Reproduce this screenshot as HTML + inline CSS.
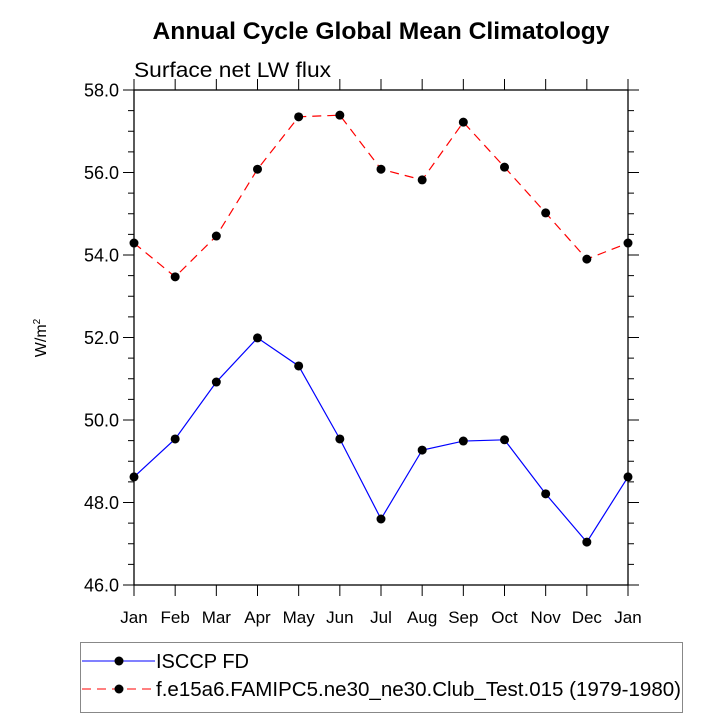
<!DOCTYPE html>
<html><head><meta charset="utf-8"><style>
body{margin:0;background:#fff;}
svg{display:block;font-family:"Liberation Sans",Arial,sans-serif;}
</style></head><body>
<svg id="c" width="727" height="727" viewBox="0 0 727 727">
<text x="381" y="39" text-anchor="middle" font-size="24" font-weight="bold" textLength="457" lengthAdjust="spacingAndGlyphs">Annual Cycle Global Mean Climatology</text>
<text x="134" y="77" font-size="21" textLength="197" lengthAdjust="spacingAndGlyphs">Surface net LW flux</text>
<text transform="translate(46,338) rotate(-90)" text-anchor="middle" font-size="16">W/m<tspan font-size="10" dy="-6">2</tspan></text>
<g id="axes"></g>
<g id="series"></g>
<g>
<rect x="80.5" y="642.5" width="602" height="70" fill="#fff" stroke="#888"/>
<line x1="82" y1="661" x2="155" y2="661" stroke="#00f"/>
<circle cx="119" cy="661" r="4.5" fill="#000"/>
<text x="156" y="668" font-size="20" textLength="93" lengthAdjust="spacingAndGlyphs">ISCCP FD</text>
<line x1="82" y1="689" x2="155" y2="689" stroke="#f00" stroke-dasharray="9,6"/>
<circle cx="119" cy="689" r="4.5" fill="#000"/>
<text x="156" y="696" font-size="20" textLength="525" lengthAdjust="spacingAndGlyphs">f.e15a6.FAMIPC5.ne30_ne30.Club_Test.015 (1979-1980)</text>
</g>
</svg>
<script>
const months=["Jan","Feb","Mar","Apr","May","Jun","Jul","Aug","Sep","Oct","Nov","Dec","Jan"];
const isccp=[48.62,49.54,50.92,51.99,51.31,49.54,47.6,49.27,49.49,49.52,48.21,47.04,48.62];
const model=[54.29,53.47,54.46,56.08,57.35,57.39,56.08,55.82,57.22,56.13,55.02,53.9,54.29];
const yTicks=["46.0","48.0","50.0","52.0","54.0","56.0","58.0"];
const L=134,R=628,T=90,B=585,ymin=46,ymax=58;
const xs=i=>L+(R-L)*i/12;
const ys=v=>B-(B-T)*(v-ymin)/(ymax-ymin);
const NS="http://www.w3.org/2000/svg";
function mk(tag,at,parent){const e=document.createElementNS(NS,tag);for(const k in at)e.setAttribute(k,at[k]);parent.appendChild(e);return e;}
const ax=document.getElementById('axes'),sg=document.getElementById('series');
const frame=mk('rect',{x:L,y:T,width:R-L,height:B-T,fill:'none',stroke:'#000','stroke-width':1.3},ax);


months.forEach((m,i)=>{
  const x=xs(i);
  const t1=mk('line',{x1:x,y1:B,x2:x,y2:B+11,stroke:'#000'},ax);
  
  
  const t2=mk('line',{x1:x,y1:T,x2:x,y2:T-11,stroke:'#000'},ax);
  
  
  const tx=mk('text',{x:x,y:B+38,'text-anchor':'middle','font-size':17},ax);
  tx.textContent=m;
  
  
});
for(let v=ymin;v<=ymax+0.001;v+=0.5){
  const y=ys(v),maj=Math.abs(v%2)<0.01,len=maj?11:6;
  const a=mk('line',{x1:L-len,y1:y,x2:L,y2:y,stroke:'#000'},ax);
  
  
  const b=mk('line',{x1:R,y1:y,x2:R+len,y2:y,stroke:'#000'},ax);
  
  
}
yTicks.forEach(s=>{
  const t=mk('text',{x:L-15,y:ys(parseFloat(s))+6.5,'text-anchor':'end','font-size':18},ax);
  t.textContent=s;
  
  
});
function draw(arr,color,dash,name){
  const p=mk('polyline',{points:arr.map((v,i)=>xs(i)+','+ys(v)).join(' '),fill:'none',stroke:color,'stroke-width':1.2,'stroke-dasharray':dash},sg);
  
  
  arr.forEach((v,i)=>{
    const c=mk('circle',{cx:xs(i),cy:ys(v),r:4.5,fill:'#000'},sg);
    
    
  });
}
draw(model,'#f00','9,6','model');
draw(isccp,'#00f','none','isccp');
</script>
</body></html>
